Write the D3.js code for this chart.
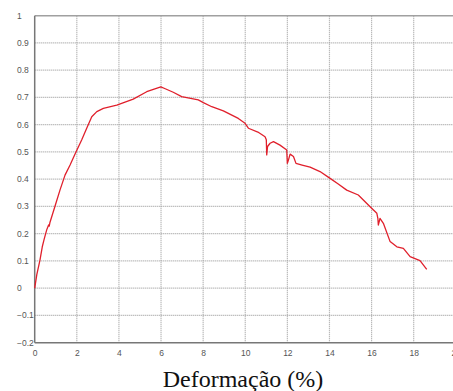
<!DOCTYPE html>
<html>
<head>
<meta charset="utf-8">
<script src="https://cdn.jsdelivr.net/npm/d3@7"></script>
<style>
  body { margin: 0; background: #fff; }
  svg { display: block; }
</style>
</head>
<body>
<svg id="chart" width="453" height="391"></svg>
<script>
// strain (%) vs. value
const strain = [0, 0.1, 0.25, 0.36, 0.45, 0.57, 0.66, 0.69, 0.72, 0.96, 1.2, 1.44, 1.68, 1.96, 2.23, 2.47, 2.71,
  2.95, 3.26, 3.9, 4.68, 5.32, 5.99, 6.2, 6.58, 6.98, 7.77, 8.01, 8.41, 8.96, 9.67, 9.99, 10.15, 10.6, 10.94,
  11.0, 11.02, 11.06, 11.18, 11.34, 11.65, 11.97, 12.0, 12.05, 12.13, 12.29, 12.41, 12.7, 13.08, 13.55,
  14.03, 14.4, 14.82, 15.37, 15.93, 16.25, 16.3, 16.32, 16.4, 16.56, 16.88, 17.2, 17.51, 17.83, 18.3, 18.62];
const stress = [0, 0.05, 0.103, 0.152, 0.18, 0.214, 0.232, 0.228, 0.24, 0.30, 0.36, 0.415, 0.452, 0.50, 0.544,
  0.587, 0.629, 0.648, 0.66, 0.672, 0.694, 0.721, 0.739, 0.732, 0.719, 0.703, 0.691, 0.681, 0.666, 0.651,
  0.623, 0.605, 0.587, 0.573, 0.556, 0.545, 0.489, 0.52, 0.532, 0.538, 0.525, 0.507, 0.458, 0.47, 0.492,
  0.483, 0.458, 0.452, 0.444, 0.428, 0.403, 0.383, 0.36, 0.342, 0.299, 0.275, 0.255, 0.232, 0.256, 0.238,
  0.171, 0.152, 0.146, 0.116, 0.101, 0.069];
const xTicks = [0, 2, 4, 6, 8, 10, 12, 14, 16, 18, 20];
const yTicks = [-0.2, -0.1, 0, 0.1, 0.2, 0.3, 0.4, 0.5, 0.6, 0.7, 0.8, 0.9, 1];
const xLabel = 'Deformação (%)';

const data = strain.map((s, i) => ({ x: s, y: stress[i] }));

const margin = { top: 15.7, left: 34.7 };
const plotW = 421.1, plotH = 327;

const svg = d3.select('#chart');
const g = svg.append('g').attr('transform', `translate(${margin.left}, ${margin.top})`);

const xScale = d3.scaleLinear().domain([0, 20]).range([0, plotW]);
const yScale = d3.scaleLinear().domain([-0.2, 1]).range([plotH, 0]);

// dotted grid
g.selectAll('.vgrid').data(xTicks.slice(1)).join('line')
  .attr('class', 'vgrid')
  .attr('x1', d => xScale(d)).attr('x2', d => xScale(d))
  .attr('y1', 0).attr('y2', plotH)
  .attr('stroke', '#a4a4a4').attr('stroke-width', 1.2).attr('stroke-dasharray', '1,1');
g.selectAll('.hgrid').data(yTicks.slice(1, -1)).join('line')
  .attr('class', 'hgrid')
  .attr('x1', 0).attr('x2', plotW)
  .attr('y1', d => yScale(d)).attr('y2', d => yScale(d))
  .attr('stroke', '#a4a4a4').attr('stroke-width', 1.2).attr('stroke-dasharray', '1,1');

// frame
g.append('line').attr('x1', 0).attr('x2', plotW).attr('y1', 0).attr('y2', 0)
  .attr('stroke', '#a0a0a0').attr('stroke-width', 1.5);
g.append('line').attr('x1', 0).attr('x2', 0).attr('y1', 0).attr('y2', plotH)
  .attr('stroke', '#777').attr('stroke-width', 1.5);
g.append('line').attr('x1', 0).attr('x2', plotW).attr('y1', plotH).attr('y2', plotH)
  .attr('stroke', '#777').attr('stroke-width', 1.5);

// tick labels
const xAxis = d3.axisBottom(xScale).tickValues(xTicks).tickSize(0).tickPadding(7).tickFormat(d3.format('d'));
const ax = g.append('g').attr('transform', `translate(0, ${plotH})`).call(xAxis);
ax.select('.domain').remove();
ax.selectAll('text').attr('font-family', 'Liberation Sans, Arial, sans-serif')
  .attr('font-size', '8.5px').attr('fill', '#555');

g.selectAll('.ylab').data(yTicks).join('text')
  .attr('class', 'ylab')
  .attr('x', 17 - margin.left)
  .attr('y', d => yScale(d))
  .attr('dy', '0.35em')
  .attr('font-family', 'Liberation Sans, Arial, sans-serif')
  .attr('font-size', '8.5px').attr('fill', '#555')
  .text(d => d3.format('')(Math.round(d * 10) / 10));

// curve
const line = d3.line().x(d => xScale(d.x)).y(d => yScale(d.y));
g.append('path').datum(data)
  .attr('d', line)
  .attr('fill', 'none')
  .attr('stroke', '#e0202c')
  .attr('stroke-width', 1.3)
  .attr('stroke-linejoin', 'round');

svg.append('text')
  .attr('x', 243).attr('y', 386.5)
  .attr('text-anchor', 'middle')
  .attr('font-family', 'Liberation Serif, Times New Roman, serif')
  .attr('font-size', '24px').attr('fill', '#111')
  .text(xLabel);
</script>
</body>
</html>
